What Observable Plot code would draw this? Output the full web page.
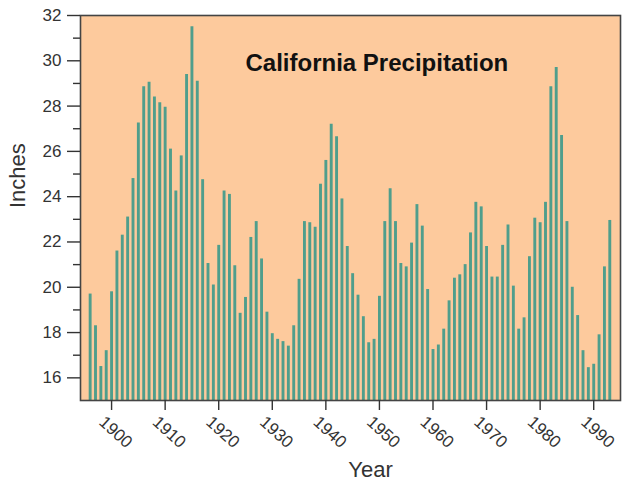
<!DOCTYPE html>
<html>
<head>
<meta charset="utf-8">
<script src="https://cdn.jsdelivr.net/npm/d3@7"></script>
<script src="https://cdn.jsdelivr.net/npm/@observablehq/plot@0.6"></script>
<style>
  html, body { margin: 0; padding: 0; background: #fff; }
  #chart svg { display: block; }
</style>
</head>
<body>
<div id="chart"></div>
<script>
const years = [1896,1897,1898,1899,1900,1901,1902,1903,1904,1905,1906,1907,1908,1909,
  1910,1911,1912,1913,1914,1915,1916,1917,1918,1919,1920,1921,1922,1923,1924,1925,1926,1927,1928,1929,
  1930,1931,1932,1933,1934,1935,1936,1937,1938,1939,1940,1941,1942,1943,1944,1945,1946,1947,1948,1949,
  1950,1951,1952,1953,1954,1955,1956,1957,1958,1959,1960,1961,1962,1963,1964,1965,1966,1967,1968,1969,
  1970,1971,1972,1973,1974,1975,1976,1977,1978,1979,1980,1981,1982,1983,1984,1985,1986,1987,1988,1989,
  1990,1991,1992,1993];
const inches = [19.7,18.3,16.5,17.2,19.8,21.6,22.3,23.1,24.8,27.25,28.85,29.05,28.4,28.15,
  27.95,26.1,24.25,25.8,29.4,31.5,29.1,24.75,21.05,20.1,21.85,24.25,24.1,20.95,18.85,19.55,22.2,22.9,21.25,18.9,
  17.95,17.7,17.6,17.4,18.3,20.35,22.9,22.85,22.65,24.55,25.6,27.2,26.65,23.9,21.8,20.6,19.65,18.7,17.55,17.7,
  19.6,22.9,24.35,22.9,21.05,20.9,21.95,23.65,22.7,19.9,17.25,17.45,18.15,19.4,20.4,20.55,21.0,22.4,23.75,23.55,
  21.8,20.45,20.45,21.85,22.75,20.05,18.15,18.65,21.35,23.05,22.85,23.75,28.85,29.7,26.7,22.9,20.0,18.75,17.2,16.45,
  16.6,17.9,20.9,22.95];
const xTicks = [1900,1910,1920,1930,1940,1950,1960,1970,1980,1990];
const yMajor = [16,18,20,22,24,26,28,30,32];
const yMinor = [17,19,21,23,25,27,29,31];
const title = "California Precipitation";
const xLabel = "Year";
const yLabel = "Inches";

const data = years.map((year, i) => ({year, value: inches[i]}));
const yBase = 15;

const chart = Plot.plot({
  width: 623,
  height: 487,
  marginTop: 15,
  marginBottom: 87,
  marginLeft: 80,
  marginRight: 3,
  style: {fontFamily: "'Liberation Sans', Arial, sans-serif", background: "#fff", color: "#333"},
  x: {domain: [1894.2, 1995]},
  y: {domain: [15, 32]},
  marks: [
    Plot.frame({fill: "#fdca9d", stroke: null}),
    Plot.ruleX(data, {x: "year", y1: yBase, y2: "value", stroke: "#4f9e8c", strokeWidth: 2.9}),
    Plot.frame({stroke: "#444", strokeWidth: 1.6}),
    Plot.axisY({ticks: yMajor, tickSize: 13, tickPadding: 6, fontSize: 17, label: null, stroke: "#333", strokeWidth: 1.4}),
    Plot.axisY({ticks: yMinor, tickSize: 7, tickFormat: () => "", label: null, stroke: "#333", strokeWidth: 1.4}),
    Plot.axisX({ticks: xTicks, tickSize: 10, tickFormat: () => "", label: null, stroke: "#333", strokeWidth: 1.4}),
    Plot.axisX({ticks: xTicks, tickSize: 0, tickPadding: 16, tickRotate: 42, fontSize: 17, dx: -10, dy: 3, tickFormat: d => String(d), label: null}),
    Plot.text([yLabel], {frameAnchor: "left", dx: -63, rotate: -90, fontSize: 22, fill: "#333"}),
    Plot.text([xLabel], {frameAnchor: "bottom", dy: 76, dx: 20, fontSize: 22, fill: "#333"}),
    Plot.text([title], {frameAnchor: "top-left", dx: 165, dy: 38, textAnchor: "start", fontSize: 24, fontWeight: "bold", fill: "#111"})
  ]
});
document.getElementById("chart").appendChild(chart);
</script>
</body>
</html>
